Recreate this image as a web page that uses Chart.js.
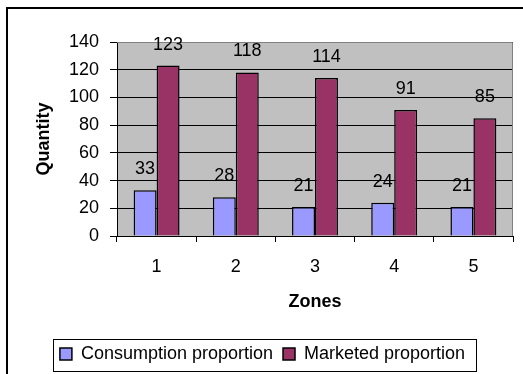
<!DOCTYPE html>
<html>
<head>
<meta charset="utf-8">
<script src="https://cdn.jsdelivr.net/npm/chart.js@4.4.1/dist/chart.umd.min.js"></script>
<style>
  html, body { margin: 0; padding: 0; background: #fff; overflow: hidden; }
  #chart { display: block; }
</style>
</head>
<body>
<canvas id="chart" width="523" height="374"></canvas>
<script>
// Zone quantities
const zones = ['1', '2', '3', '4', '5'];
const consumption = [33, 28, 21, 24, 21];
const marketed = [123, 118, 114, 91, 85];
const yMin = 0;
const yMax = 140;
const yStep = 20;

const FONT = 'Liberation Sans, Arial, sans-serif';
Chart.defaults.color = '#000';
Chart.defaults.font.family = FONT;
Chart.defaults.font.size = 18;

// Outer frame, grey plot background and plot border
const framePlugin = {
  id: 'frame',
  beforeDraw(chart) {
    const { ctx, chartArea: a } = chart;
    ctx.save();
    ctx.fillStyle = '#fff';
    ctx.fillRect(0, 0, chart.width, chart.height);
    ctx.fillStyle = '#c0c0c0';
    ctx.fillRect(a.left, a.top, a.right - a.left, a.bottom - a.top);
    ctx.strokeStyle = '#000';
    ctx.lineWidth = 2;
    ctx.strokeRect(7, 8, 600, 420);
    ctx.restore();
  },
  afterDatasetsDraw(chart) {
    const { ctx, chartArea: a } = chart;
    ctx.save();
    ctx.strokeStyle = '#808080';
    ctx.lineWidth = 1;
    ctx.beginPath();
    ctx.moveTo(a.left, a.top + 0.5);
    ctx.lineTo(a.right - 0.5, a.top + 0.5);
    ctx.lineTo(a.right - 0.5, a.bottom);
    ctx.stroke();
    ctx.restore();
  },
  afterDraw(chart) {
    // box round the legend
    const boxes = chart.legend.legendHitBoxes;
    if (!boxes || !boxes.length) return;
    const left = Math.min(...boxes.map(b => b.left));
    const right = Math.max(...boxes.map(b => b.left + b.width));
    const top = Math.min(...boxes.map(b => b.top));
    const bottom = Math.max(...boxes.map(b => b.top + b.height));
    const ctx = chart.ctx;
    ctx.save();
    ctx.strokeStyle = '#000';
    ctx.lineWidth = 1;
    ctx.strokeRect(Math.round(left - 7) + 0.5, Math.round(top - 6) + 0.5,
      Math.round(right - left + 18), Math.round(bottom - top + 14));
    ctx.restore();
  }
};

// Value labels above each bar
const valueLabels = {
  id: 'valueLabels',
  afterDatasetsDraw(chart) {
    const ctx = chart.ctx;
    ctx.save();
    ctx.font = '18px ' + FONT;
    ctx.fillStyle = '#000';
    ctx.textAlign = 'center';
    ctx.textBaseline = 'middle';
    chart.data.datasets.forEach((ds, i) => {
      chart.getDatasetMeta(i).data.forEach((bar, j) => {
        ctx.fillText(String(ds.data[j]), bar.x, bar.y - 21);
      });
    });
    ctx.restore();
  }
};

new Chart(document.getElementById('chart'), {
  type: 'bar',
  data: {
    labels: zones,
    datasets: [
      {
        label: 'Consumption proportion',
        data: consumption,
        backgroundColor: '#9999ff',
        borderColor: '#000',
        borderWidth: 1.5,
        categoryPercentage: 0.58,
        barPercentage: 1
      },
      {
        label: 'Marketed proportion',
        data: marketed,
        backgroundColor: '#993366',
        borderColor: '#000',
        borderWidth: 1.5,
        categoryPercentage: 0.58,
        barPercentage: 1
      }
    ]
  },
  options: {
    responsive: false,
    animation: false,
    layout: { padding: { left: 12, top: 42, right: 10, bottom: 1 } },
    plugins: {
      tooltip: { enabled: false },
      legend: {
        position: 'bottom',
        labels: {
          boxWidth: 12,
          boxHeight: 12,
          padding: 10,
          color: '#000',
          font: { size: 18, family: FONT }
        }
      }
    },
    scales: {
      x: {
        grid: {
          drawOnChartArea: false,
          drawTicks: true,
          tickLength: 6,
          tickColor: '#000',
          offset: true
        },
        border: { color: '#000', width: 1 },
        ticks: { padding: 14, font: { size: 18 }, color: '#000' },
        title: {
          display: true,
          text: 'Zones',
          font: { size: 18, weight: 'bold' },
          padding: { top: 0, bottom: 22 }
        },
        afterFit(scale) { scale.height = 99; }
      },
      y: {
        min: yMin,
        max: yMax,
        ticks: { stepSize: yStep, padding: 11, font: { size: 18 }, color: '#000' },
        grid: {
          color: '#000',
          tickColor: '#000',
          tickLength: 7,
          lineWidth: 1
        },
        border: { color: '#000', width: 1 },
        title: {
          display: true,
          text: 'Quantity',
          font: { size: 18, weight: 'bold' },
          padding: { top: 21, bottom: 0 }
        },
        afterFit(scale) { scale.width = 105; }
      }
    }
  },
  plugins: [framePlugin, valueLabels]
});
</script>
</body>
</html>
